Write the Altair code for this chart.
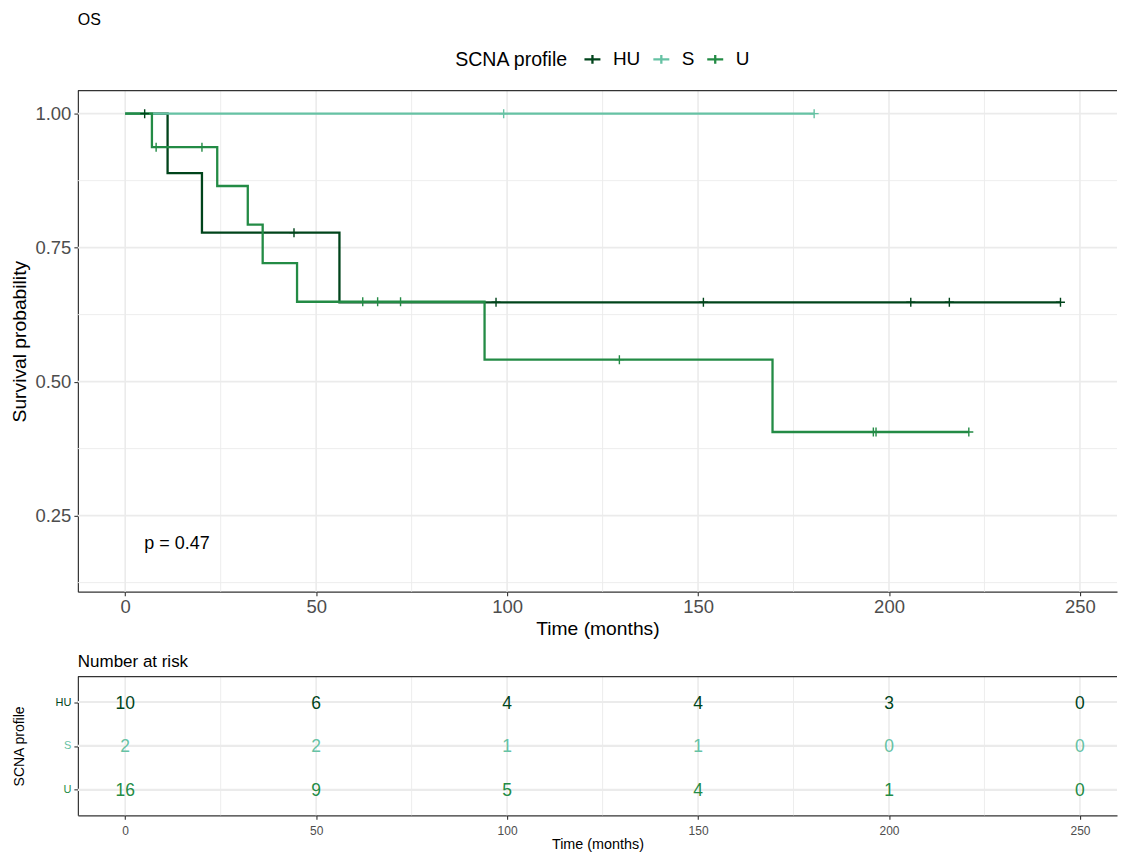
import altair as alt
import pandas as pd

# ---------------- data ----------------
groups = ["HU", "S", "U"]
colors = ["#00441B", "#66C2A4", "#238B45"]

hu_step_time = [0, 11.1, 20.1, 56.1, 244.9]
hu_step_surv = [1.0, 0.889, 0.778, 0.648, 0.648]
hu_cens_time = [5.1, 44.2, 97.1, 151.4, 205.7, 215.8, 244.9]
hu_cens_surv = [1.0, 0.778, 0.648, 0.648, 0.648, 0.648, 0.648]

s_step_time = [0, 180.4]
s_step_surv = [1.0, 1.0]
s_cens_time = [99.1, 180.4]
s_cens_surv = [1.0, 1.0]

u_step_time = [0, 7.0, 24.1, 32.1, 36.0, 45.0, 94.1, 169.5, 220.9]
u_step_surv = [1.0, 0.9375, 0.865, 0.793, 0.721, 0.649, 0.541, 0.406, 0.406]
u_cens_time = [8.1, 20.1, 62.2, 66.1, 72.1, 129.4, 195.9, 196.6, 220.9]
u_cens_surv = [0.9375, 0.9375, 0.649, 0.649, 0.649, 0.541, 0.406, 0.406, 0.406]

risk_times = [0, 50, 100, 150, 200, 250]
hu_risk = [10, 6, 4, 4, 3, 0]
s_risk = [2, 2, 1, 1, 0, 0]
u_risk = [16, 9, 5, 4, 1, 0]

x_ticks = [0, 50, 100, 150, 200, 250]
x_minor = [25, 75, 125, 175, 225]
y_ticks = [0.25, 0.5, 0.75, 1.0]
y_minor = [0.125, 0.375, 0.625, 0.875]
p_label = "p = 0.47"

# ---------------- tables ----------------
def steps(g, t, s):
    return pd.DataFrame({"group": g, "time": t, "surv": s})

curve_df = pd.concat([steps("HU", hu_step_time, hu_step_surv),
                      steps("S", s_step_time, s_step_surv),
                      steps("U", u_step_time, u_step_surv)], ignore_index=True)
cens_df = pd.concat([steps("HU", hu_cens_time, hu_cens_surv),
                     steps("S", s_cens_time, s_cens_surv),
                     steps("U", u_cens_time, u_cens_surv)], ignore_index=True)
color_of = dict(zip(groups, colors))
risk_rows = []
for g, vals in zip(groups, [hu_risk, s_risk, u_risk]):
    for t, n in zip(risk_times, vals):
        risk_rows.append({"group": g, "time": t, "n": str(n), "col": color_of[g]})
risk_df = pd.DataFrame(risk_rows)

xmaj_df = pd.DataFrame({"time": x_ticks})
xmin_df = pd.DataFrame({"time": x_minor})
ymaj_df = pd.DataFrame({"surv": y_ticks})
ymin_df = pd.DataFrame({"surv": y_minor})
rows_df = pd.DataFrame({"group": groups})
one_df = pd.DataFrame({"k": [0]})

# ---------------- styling ----------------
W = 1041
H_MAIN = 502
H_RISK = 139
X_DOMAIN = [-12.39, 259.7]
Y_DOMAIN = [0.108, 1.043]
BORDER = "#333333"
GRID = "#ebebeb"
LABEL = "#4d4d4d"

xscale = alt.Scale(domain=X_DOMAIN, zero=False, nice=False)
yscale = alt.Scale(domain=Y_DOMAIN, zero=False, nice=False)
cscale = alt.Scale(domain=groups, range=colors)

x_axis_main = alt.Axis(values=x_ticks, grid=False, title="Time (months)",
                       labelFontSize=18.5, labelColor=LABEL, labelPadding=2,
                       tickSize=4, tickColor=BORDER, tickWidth=1.1,
                       domainColor=BORDER, domainWidth=1.2,
                       titleFontSize=19.3, titleFontWeight="normal", titleColor="black",
                       titlePadding=3)
y_axis_main = alt.Axis(values=y_ticks, format=".2f", grid=False, title="Survival probability",
                       labelFontSize=18.5, labelColor=LABEL, labelPadding=3,
                       tickSize=4, tickColor=BORDER, tickWidth=1.1,
                       domainColor=BORDER, domainWidth=1.2,
                       titleFontSize=19.3, titleFontWeight="normal", titleColor="black",
                       titlePadding=5)


def XM(field="time:Q"):
    return alt.X(field, scale=xscale, axis=x_axis_main)


def YM(field="surv:Q"):
    return alt.Y(field, scale=yscale, axis=y_axis_main)


def vgrid(df, width):
    return alt.Chart(df).mark_rule(color=GRID, strokeWidth=width).encode(x=XM())


def hgrid(df, width):
    return alt.Chart(df).mark_rule(color=GRID, strokeWidth=width).encode(y=YM())


top_border = alt.Chart(one_df).mark_rule(color=BORDER, strokeWidth=1.2).encode(y=alt.value(0))

legend = alt.Legend(title="SCNA profile", orient="none", legendX=378, legendY=-41,
                    direction="horizontal", titleOrient="left",
                    titleFontSize=19.6, titleFontWeight="normal", titleColor="black",
                    labelFontSize=19, labelColor="black",
                    symbolType="M-1,0H1M0,-0.55V0.55", symbolSize=256,
                    symbolStrokeWidth=2.3, labelOffset=11, columnPadding=7,
                    titlePadding=14)

lines = alt.Chart(curve_df).mark_line(interpolate="step-after", strokeWidth=2.3).encode(
    x=XM(), y=YM(),
    color=alt.Color("group:N", scale=cscale, legend=legend),
    detail="group:N",
)

cens = alt.Chart(cens_df).mark_point(shape="M-1,0H1M0,-1V1", size=81, filled=False,
                                     strokeWidth=1.4, opacity=1).encode(
    x=XM(), y=YM(),
    color=alt.Color("group:N", scale=cscale, legend=legend),
)

ptext = alt.Chart(one_df).mark_text(align="left", baseline="middle", fontSize=18,
                                    color="black").encode(
    x=alt.datum(5, scale=xscale, axis=x_axis_main),
    y=alt.datum(0.197, scale=yscale, axis=y_axis_main),
    text=alt.value(p_label),
)

main = alt.layer(
    vgrid(xmin_df, 0.9), hgrid(ymin_df, 0.9),
    vgrid(xmaj_df, 1.6), hgrid(ymaj_df, 1.6),
    lines, cens, ptext, top_border,
).properties(
    width=W, height=H_MAIN,
    title=alt.TitleParams("OS", anchor="start", frame="group", fontSize=16,
                          fontWeight="normal", color="black", offset=22),
)

# ---------------- risk table ----------------
yscale_r = alt.Scale(type="point", domain=groups, padding=0.58)
x_axis_risk = alt.Axis(values=x_ticks, grid=False, title="Time (months)",
                       labelFontSize=12, labelColor=LABEL, labelPadding=6,
                       tickSize=4, tickColor=BORDER, tickWidth=1.1,
                       domainColor=BORDER, domainWidth=1.2,
                       titleFontSize=14.4, titleFontWeight="normal", titleColor="black",
                       titlePadding=1)
y_axis_risk = alt.Axis(title="SCNA profile", labelFontSize=11,
                       labelColor={"condition": [
                           {"test": "datum.value === 'HU'", "value": colors[0]},
                           {"test": "datum.value === 'S'", "value": colors[1]}],
                           "value": colors[2]},
                       labelPadding=3, tickSize=4, tickColor=BORDER, tickWidth=1.1,
                       domainColor=BORDER, domainWidth=1.2,
                       titleFontSize=14, titleFontWeight="normal", titleColor="black",
                       titlePadding=29, grid=False)


def XR():
    return alt.X("time:Q", scale=xscale, axis=x_axis_risk)


def YR():
    return alt.Y("group:N", scale=yscale_r, axis=y_axis_risk)


rgrid_minor = alt.Chart(xmin_df).mark_rule(color=GRID, strokeWidth=0.9).encode(x=XR())
rgrid_major = alt.Chart(xmaj_df).mark_rule(color=GRID, strokeWidth=1.6).encode(x=XR())
rgrid_rows = alt.Chart(rows_df).mark_rule(color=GRID, strokeWidth=2.2).encode(y=YR())

rtext = alt.Chart(risk_df).mark_text(fontSize=17.5, baseline="middle", dy=1.5).encode(
    x=XR(), y=YR(),
    text="n:N",
    color=alt.Color("col:N", scale=None),
)

risk = alt.layer(rgrid_minor, rgrid_major, rgrid_rows, rtext, top_border).properties(
    width=W, height=H_RISK,
    title=alt.TitleParams("Number at risk", anchor="start", frame="group", fontSize=17,
                          fontWeight="normal", color="black", offset=5),
)

chart = alt.vconcat(main, risk, spacing=14).resolve_scale(
    color="independent").resolve_legend(color="independent").configure(
    font="Liberation Sans",
    padding={"left": 2, "top": 3, "right": 0, "bottom": 0},
).configure_view(stroke=None)

chart.save("out.html", embed_options={"renderer": "svg", "actions": False})
